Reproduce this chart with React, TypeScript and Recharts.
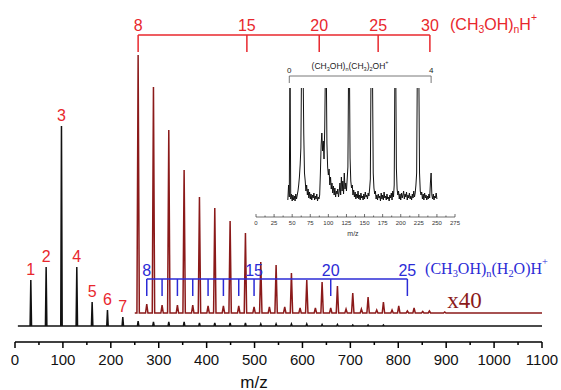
import {
  ComposedChart,
  LineChart,
  Line,
  XAxis,
  YAxis,
  ReferenceLine,
  ReferenceDot,
} from "recharts";

// (CH3OH)nH+ at full scale (black trace)
const mainMz = [33, 65, 97, 129, 161, 193, 225, 257, 289, 321, 353, 385, 417, 449, 481, 513, 545, 577, 609, 641, 673, 705, 737, 769];
const mainInt = [46, 59, 200, 59, 24, 16, 9, 5, 4, 4, 4, 3, 3, 3, 3, 2, 2, 2, 2, 1.5, 1.5, 1, 1, 1];
const lowClusterLabels = ["1", "2", "3", "4", "5", "6", "7"];

// x40 trace: (CH3OH)nH+, n = 8..28
const zoomMz = [257, 289, 321, 353, 385, 417, 449, 481, 513, 545, 577, 609, 641, 673, 705, 737, 769, 801, 833, 865, 897];
const zoomInt = [258, 226, 183, 143, 116, 105, 92, 80, 51, 48, 40, 33, 31, 27, 20, 16, 11, 7, 5, 2, 1];
// x40 trace: (CH3OH)n(H2O)H+, n = 8..26
const waterMz = [275, 307, 339, 371, 403, 435, 467, 499, 531, 563, 595, 627, 659, 691, 723, 755, 787, 819, 851];
const waterInt = [9, 8, 8, 8, 7, 7, 7, 6, 6, 6, 5, 5, 5, 4, 4, 3, 3, 2, 1.5];

// brackets
const protonN = [8, 15, 20, 25, 30];
const protonTickMz = [257, 484, 635, 758, 866];
const waterTickMz = [275, 307, 339, 371, 403, 435, 467, 499, 659, 819];
const waterLabelN = ["8", "15", "20", "25"];
const waterLabelMz = [275, 499, 659, 819];

const xTicks = [0, 50, 100, 150, 200, 250, 300, 350, 400, 450, 500, 550, 600, 650, 700, 750, 800, 850, 900, 950, 1000, 1050, 1100];

// inset: m/z 44..250, one point per unit
const insetStart = 44;
const insetInt = [
  3, 18, 6, 140, 4, 9, 2, 8, 3, 7,
  2, 9, 4, 8, 12, 18, 26, 38, 55, 140,
  150, 140, 70, 30, 22, 12, 18, 8, 14, 5,
  11, 4, 9, 3, 8, 5, 10, 3, 7, 4,
  9, 2, 6, 4, 8, 30, 58, 70, 52, 62,
  44, 75, 140, 150, 60, 36, 28, 34, 18, 26,
  14, 20, 10, 17, 8, 15, 6, 12, 9, 14,
  6, 11, 20, 8, 26, 12, 22, 9, 30, 14,
  20, 12, 24, 36, 140, 150, 45, 22, 15, 18,
  8, 13, 6, 11, 4, 9, 5, 12, 4, 8,
  3, 10, 5, 7, 3, 9, 4, 11, 6, 8,
  4, 10, 7, 14, 24, 140, 150, 130, 30, 15,
  9, 12, 4, 8, 3, 9, 5, 7, 2, 10,
  4, 8, 3, 11, 5, 7, 3, 9, 4, 6,
  2, 8, 5, 10, 3, 12, 6, 18, 140, 150,
  35, 14, 8, 12, 4, 9, 3, 10, 5, 8,
  12, 4, 9, 6, 11, 3, 8, 5, 10, 4,
  7, 3, 9, 5, 12, 6, 10, 18, 30, 140,
  150, 135, 30, 12, 8, 11, 4, 9, 3, 10,
  5, 8, 3, 7, 4, 9, 5, 20, 30, 8,
  4, 9, 3, 7, 5, 10, 4,
];
const insetTicks = [0, 12.5, 25, 37.5, 50, 62.5, 75, 87.5, 100, 112.5, 125, 137.5, 150, 162.5, 175, 187.5, 200, 212.5, 225, 237.5, 250, 262.5, 275];
const insetBracketMz = [46, 242];
const insetBracketN = ["0", "4"];

const RED = "#e8272d";
const BLUE = "#2b2bd6";
const DARKRED = "#8b1a1a";
const SANS = "Liberation Sans, Arial, sans-serif";
const SERIF = "Liberation Serif, Times New Roman, serif";
const RED_LIFT = 13; // x40 trace baseline sits above the black one

function sticks(mz: number[], h: number[], half: number, from: number, to: number, lift: number) {
  const pts = [{ mz: from, v: lift }, { mz: to, v: lift }];
  mz.forEach((m, i) => {
    pts.push({ mz: m - half, v: lift }, { mz: m, v: lift + h[i] }, { mz: m + half, v: lift });
  });
  return pts.sort((a, b) => a.mz - b.mz);
}

const blackTrace = sticks(mainMz, mainInt, 1.5, 6, 1100, 0);
const redTrace = sticks([...zoomMz, ...waterMz], [...zoomInt, ...waterInt], 2.5, 250, 1100, RED_LIFT);
const insetData = insetInt.map((v, i) => ({ mz: insetStart + i, v }));

type Part = [string, number]; // 0 normal, 1 sub, 2 sup

function chem(cx: number, cy: number, parts: Part[], size: number, color: string, family: string, anchor: string) {
  let shift = 0;
  return (
    <text x={cx} y={cy} fill={color} fontSize={size} fontFamily={family} textAnchor={anchor} dominantBaseline="central">
      {parts.map(([s, k], i) => {
        const target = k === 1 ? size * 0.32 : k === 2 ? -size * 0.42 : 0;
        const dy = target - shift;
        shift = target;
        return (
          <tspan key={i} dy={dy} fontSize={k ? size * 0.65 : size}>
            {s}
          </tspan>
        );
      })}
    </text>
  );
}

function textAt(key: string, x: number, y: number, draw: (cx: number, cy: number) => any) {
  return (
    <ReferenceDot key={key} x={x} y={y} r={0} ifOverflow="visible" shape={(p: any) => draw(p.cx, p.cy)} />
  );
}

const plain = (s: string, size: number, color: string, family = SANS) => (cx: number, cy: number) => (
  <text x={cx} y={cy} fill={color} fontSize={size} fontFamily={family} textAnchor="middle" dominantBaseline="central">
    {s}
  </text>
);

const MainTick = (props: any) => {
  const { x, y, payload } = props;
  const major = payload.value % 100 === 0;
  return (
    <g>
      <line x1={x} y1={y} x2={x} y2={y + (major ? 6 : 3)} stroke="#000" strokeWidth={1.5} />
      {major && (
        <text x={x} y={y + 17} textAnchor="middle" dominantBaseline="central" fontSize={15} fontFamily={SANS} fill="#111">
          {payload.value}
        </text>
      )}
    </g>
  );
};

const InsetTick = (props: any) => {
  const { x, y, payload } = props;
  const major = payload.value % 25 === 0;
  return (
    <g>
      <line x1={x} y1={y} x2={x} y2={y - (major ? 3 : 1.5)} stroke="#333" strokeWidth={0.7} />
      {major && (
        <text x={x} y={y + 6} textAnchor="middle" dominantBaseline="central" fontSize={6} fontFamily={SANS} fill="#333">
          {payload.value}
        </text>
      )}
    </g>
  );
};

export default function App() {
  return (
    <div style={{ position: "absolute", left: 0, top: 0, width: 561, height: 390, background: "#fff" }}>
      <ComposedChart width={561} height={390} margin={{ top: 0, right: 19, bottom: 0, left: 15 }}>
        <XAxis
          type="number"
          dataKey="mz"
          domain={[0, 1100]}
          ticks={xTicks}
          interval={0}
          height={48}
          tickSize={0}
          tickMargin={0}
          tickLine={false}
          axisLine={{ stroke: "#000", strokeWidth: 1.5 }}
          tick={MainTick}
          allowDataOverflow
        />
        <YAxis hide type="number" domain={[-16, 326]} allowDataOverflow />

        <Line data={blackTrace} dataKey="v" type="linear" dot={false} stroke="#111" strokeWidth={1.5} isAnimationActive={false} />
        <Line data={redTrace} dataKey="v" type="linear" dot={false} stroke={DARKRED} strokeWidth={1.5} isAnimationActive={false} />

        {/* (CH3OH)nH+ bracket */}
        <ReferenceLine
          segment={[{ x: protonTickMz[0], y: 291 }, { x: protonTickMz[protonTickMz.length - 1], y: 291 }]}
          stroke={RED}
          strokeWidth={1.5}
          ifOverflow="visible"
        />
        {protonTickMz.map((m) => (
          <ReferenceLine key={"pt" + m} segment={[{ x: m, y: 291 }, { x: m, y: 274 }]} stroke={RED} strokeWidth={1.5} ifOverflow="visible" />
        ))}
        {protonN.map((n, i) => textAt("pn" + n, protonTickMz[i], 301, plain(String(n), 16, RED)))}
        {textAt("plabel", 908, 302, (cx, cy) =>
          chem(cx, cy, [["(CH", 0], ["3", 1], ["OH)", 0], ["n", 1], ["H", 0], ["+", 2]], 16, RED, SANS, "start")
        )}

        {/* low cluster numbers */}
        {lowClusterLabels.map((s, i) => textAt("lc" + s, mainMz[i], mainInt[i] + 11, plain(s, 16, RED)))}

        {/* (CH3OH)n(H2O)H+ bracket */}
        <ReferenceLine
          segment={[{ x: waterTickMz[0], y: 47 }, { x: waterTickMz[waterTickMz.length - 1], y: 47 }]}
          stroke={BLUE}
          strokeWidth={1.5}
          ifOverflow="visible"
        />
        {waterTickMz.map((m) => (
          <ReferenceLine key={"wt" + m} segment={[{ x: m, y: 47 }, { x: m, y: 30 }]} stroke={BLUE} strokeWidth={1.5} ifOverflow="visible" />
        ))}
        {waterLabelN.map((s, i) => textAt("wn" + s, waterLabelMz[i], 56, plain(s, 16, BLUE)))}
        {textAt("wlabel", 856, 58, (cx, cy) =>
          chem(cx, cy, [["(CH", 0], ["3", 1], ["OH)", 0], ["n", 1], ["(H", 0], ["2", 1], ["O)H", 0], ["+", 2]], 16, BLUE, SERIF, "start")
        )}
        {textAt("x40", 902, 26, (cx, cy) => (
          <text x={cx} y={cy} fill={DARKRED} fontSize={23} fontFamily={SERIF} dominantBaseline="central">
            x40
          </text>
        ))}
        {textAt("mz", 499, -56, plain("m/z", 17, "#111"))}
      </ComposedChart>

      <div style={{ position: "absolute", left: 246, top: 55 }}>
        <LineChart width={220} height={190} data={insetData} margin={{ top: 33, right: 11, bottom: 0, left: 10 }}>
          <XAxis
            type="number"
            dataKey="mz"
            domain={[0, 275]}
            ticks={insetTicks}
            interval={0}
            height={28}
            tickSize={0}
            tickMargin={0}
            tickLine={false}
            axisLine={{ stroke: "#333", strokeWidth: 0.7 }}
            tick={InsetTick}
            allowDataOverflow
          />
          <YAxis hide type="number" domain={[-14, 115]} allowDataOverflow />
          <Line dataKey="v" type="linear" dot={false} stroke="#111" strokeWidth={1} isAnimationActive={false} />
          <ReferenceLine
            segment={[{ x: insetBracketMz[0], y: 127 }, { x: insetBracketMz[1], y: 127 }]}
            stroke="#555"
            strokeWidth={0.8}
            ifOverflow="visible"
          />
          {insetBracketMz.map((m) => (
            <ReferenceLine key={"it" + m} segment={[{ x: m, y: 127 }, { x: m, y: 120 }]} stroke="#555" strokeWidth={0.8} ifOverflow="visible" />
          ))}
          {insetBracketN.map((s, i) => textAt("in" + s, insetBracketMz[i], 133, plain(s, 8, "#222")))}
          {textAt("ititle", 130, 137, (cx, cy) =>
            chem(cx, cy, [["(CH", 0], ["3", 1], ["OH)", 0], ["n", 1], ["(CH", 0], ["3", 1], [")", 0], ["2", 1], ["OH", 0], ["+", 2]], 8.5, "#222", SANS, "middle")
          )}
          {textAt("imz", 134, -30, plain("m/z", 7, "#333"))}
        </LineChart>
      </div>
    </div>
  );
}
